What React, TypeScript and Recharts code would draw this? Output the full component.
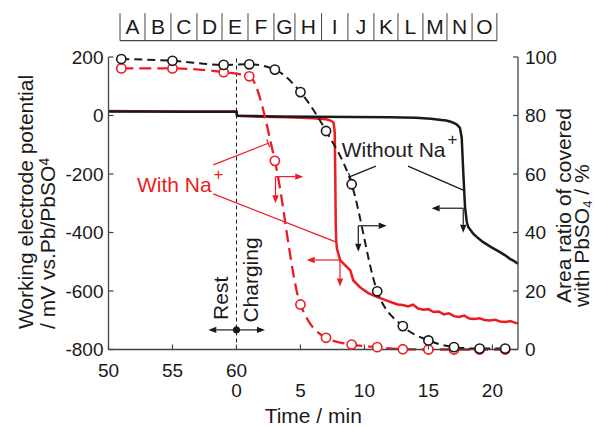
import React from "react";
import {
  ComposedChart,
  Line,
  XAxis,
  YAxis,
  ReferenceLine,
  ReferenceDot,
  Label,
} from "recharts";

const RED = "#ec1c24";
const INK = "#1a1a1a";
const AXIS = "#444";
const FONT = "'Liberation Sans', Arial, Helvetica, sans-serif";

// area ratio covered with PbSO4 (right axis, %)
const restMinutes = [51, 55, 59];
const chargeMinutes = [1, 3, 5, 7, 9, 11, 13, 15, 17, 19, 21];
const coverWithout = [99.3, 98.7, 97.3, 97.5, 95.7, 88.0, 74.7, 56.5, 19.9, 8.0, 3.1, 0.8, 0.3, 0.3];
const coverWith = [96.1, 96.1, 94.8, 93.4, 64.5, 15.4, 4.0, 1.7, 0.8, 0.1, 0, 0, 0, 0];

// working electrode potential (left axis, mV); time on the charging clock, rest is negative
const potTimeWithout = [
  -10, -7, -4, -1, 0, 0.05, 3, 6, 9, 12, 14, 15.2, 16, 16.4, 16.8, 17.2, 17.46, 17.6,
  17.72, 17.86, 18.0, 18.11, 18.5, 18.9, 19.28, 19.9, 20.59, 21.0, 21.37, 21.7, 22,
];
const potWithout = [
  14, 14, 13, 13, 13, -1, -3, -4, -5, -6, -8, -11, -15, -17, -22, -30, -42, -75,
  -190, -313, -365, -381, -404, -420, -433, -450, -467, -478, -490, -498, -507,
];
const potTimeWith = [
  -10, -6, -2, 0, 0.05, 2, 4, 6, 7, 7.4, 7.6, 7.68, 7.72, 7.76, 7.8, 7.85, 8.1, 8.6, 8.9,
  9.13, 9.65, 10.3, 11.0, 11.4, 11.8, 12.2, 12.6, 13.0, 13.4, 13.8, 14.2, 14.6, 15.0,
  15.4, 15.8, 16.2, 16.6, 17.0, 17.4, 17.8, 18.2, 18.6, 19.0, 19.4, 19.8, 20.2, 20.6,
  21.0, 21.4, 21.8, 22,
];
const potWith = [
  15, 14, 14, 14, -1, -4, -6, -9, -13, -18, -25, -60, -200, -380, -430, -455, -494, -517,
  -530, -564, -587, -607, -621, -627, -634, -640, -646, -648, -653, -647, -660, -664,
  -662, -672, -670, -680, -676, -686, -689, -684, -694, -696, -693, -699, -701, -698,
  -704, -706, -703, -709, -710,
];

// axes
const restTickLabels = [50, 55, 60];
const chargeTickLabels = [0, 5, 10, 15, 20];
const leftTicks = [-800, -600, -400, -200, 0, 200];
const rightTicks = [0, 20, 40, 60, 80, 100];

// letter strip above the plot: box edges on the time axis
const stripLetters = ["A", "B", "C", "D", "E", "F", "G", "H", "I", "J", "K", "L", "M", "N", "O"];
const stripEdges = [-9.1, -7.15, -5.12, -3.09, -1.13, 0.9, 2.93, 4.57, 6.65, 8.71, 10.74, 12.62, 14.57, 16.45, 18.41, 20.35];

const toT = (m: number) => m - 60;
const coverTimes = [...restMinutes.map(toT), ...chargeMinutes];
const coverWithoutData = coverTimes.map((t, i) => ({ t, v: coverWithout[i] }));
const coverWithData = coverTimes.map((t, i) => ({ t, v: coverWith[i] }));
const potWithoutData = potTimeWithout.map((t, i) => ({ t, v: potWithout[i] }));
const potWithData = potTimeWith.map((t, i) => ({ t, v: potWith[i] }));
const timeTicks = Array.from(new Set([...restTickLabels.map(toT), ...chargeTickLabels]));

// strip placement, in left-axis units above the 200 mV top
const STRIP_BASE = 256;
const STRIP_TOP = 350;
const STRIP_TEXT = 279;

// annotation pointers (time, mV)
type Seg = { a: [number, number]; b: [number, number]; color: string; head?: boolean; bar?: boolean; w?: number };
const segments: Seg[] = [
  { a: [-1.81, -169], b: [2.48, -95], color: RED, bar: true },
  { a: [-1.81, -268], b: [7.7, -431], color: RED },
  { a: [3.05, -209], b: [5.22, -209], color: RED, head: true },
  { a: [3.05, -209], b: [3.05, -300], color: RED, head: true },
  { a: [8.09, -494], b: [5.49, -494], color: RED, head: true },
  { a: [8.09, -494], b: [8.09, -585], color: RED, head: true },
  { a: [10.9, -173], b: [8.87, -209], color: INK, bar: true },
  { a: [13.4, -173], b: [17.72, -255], color: INK },
  { a: [9.52, -377], b: [11.74, -377], color: INK, head: true },
  { a: [9.52, -377], b: [9.52, -466], color: INK, head: true },
  { a: [17.72, -317], b: [15.25, -317], color: INK, head: true },
  { a: [17.72, -317], b: [17.72, -401], color: INK, head: true },
  { a: [0, -733], b: [-2.2, -733], color: INK, head: true },
  { a: [0, -733], b: [2.23, -733], color: INK, head: true },
];

const segShape = (s: Seg) => (p: any) => {
  const { x1, y1, x2, y2 } = p;
  const dx = x2 - x1;
  const dy = y2 - y1;
  const len = Math.hypot(dx, dy) || 1;
  const ux = dx / len;
  const uy = dy / len;
  const hl = 8;
  const hw = 3.2;
  const ex = s.head ? x2 - ux * hl : x2;
  const ey = s.head ? y2 - uy * hl : y2;
  return (
    <g>
      <line x1={x1} y1={y1} x2={ex} y2={ey} stroke={s.color} strokeWidth={s.w ?? 1.2} />
      {s.head && (
        <polygon
          points={`${x2},${y2} ${ex - uy * hw},${ey + ux * hw} ${ex + uy * hw},${ey - ux * hw}`}
          fill={s.color}
        />
      )}
      {s.bar && (
        <line x1={x2 - uy * 4} y1={y2 + ux * 4} x2={x2 + uy * 4} y2={y2 - ux * 4} stroke={s.color} strokeWidth={1.2} />
      )}
    </g>
  );
};

const textShape = (content: React.ReactNode, color: string, rotate = false, anchor = "start") => (p: any) => (
  <text
    x={p.cx}
    y={p.cy}
    fill={color}
    fontSize={21}
    fontFamily={FONT}
    textAnchor={anchor}
    transform={rotate ? `rotate(-90 ${p.cx} ${p.cy})` : undefined}
  >
    {content}
  </text>
);

const LeftTick = (p: any) => (
  <g>
    <line x1={p.x} x2={p.x + 5} y1={p.y} y2={p.y} stroke={AXIS} strokeWidth={1.2} />
    <text x={p.x - 5} y={p.y} dy="0.36em" textAnchor="end" fontSize={19} fontFamily={FONT} fill={INK}>
      {p.payload.value}
    </text>
  </g>
);

const RightTick = (p: any) => (
  <g>
    <line x1={p.x - 5} x2={p.x} y1={p.y} y2={p.y} stroke={AXIS} strokeWidth={1.2} />
    <text x={p.x + 7} y={p.y} dy="0.36em" textAnchor="start" fontSize={19} fontFamily={FONT} fill={INK}>
      {p.payload.value}
    </text>
  </g>
);

const TimeTick = (p: any) => {
  const v = p.payload.value;
  return (
    <g>
      <line x1={p.x} x2={p.x} y1={p.y} y2={p.y - 5} stroke={AXIS} strokeWidth={1.2} />
      {v <= 0 && (
        <text x={p.x} y={p.y + 27.5} textAnchor="middle" fontSize={19} fontFamily={FONT} fill={INK}>
          {v + 60}
        </text>
      )}
      {v >= 0 && (
        <text x={p.x} y={p.y + 47.5} textAnchor="middle" fontSize={19} fontFamily={FONT} fill={INK}>
          {v}
        </text>
      )}
    </g>
  );
};

const LeftTitle = (p: any) => {
  const vb = p.viewBox;
  const y0 = vb.y + vb.height - 20.5;
  return (
    <g fontSize={21} fontFamily={FONT} fill={INK}>
      <text x={vb.x + 33} y={y0} transform={`rotate(-90 ${vb.x + 33} ${y0})`}>
        Working electrode potential
      </text>
      <text x={vb.x + 55} y={y0} transform={`rotate(-90 ${vb.x + 55} ${y0})`}>
        / mV vs.Pb/PbSO<tspan fontSize={14} dy={-6}>4</tspan>
      </text>
    </g>
  );
};

const RightTitle = (p: any) => {
  const vb = p.viewBox;
  const y1 = vb.y + 246;
  const y2 = vb.y + 250;
  return (
    <g fontSize={21} fontFamily={FONT} fill={INK}>
      <text x={vb.x + 53} y={y1} transform={`rotate(-90 ${vb.x + 53} ${y1})`}>
        Area ratio of covered
      </text>
      <text x={vb.x + 71} y={y2} transform={`rotate(-90 ${vb.x + 71} ${y2})`}>
        with PbSO<tspan fontSize={13} dy={3}>4</tspan>
        <tspan dy={-3}> / %</tspan>
      </text>
    </g>
  );
};

const TimeTitle = (p: any) => {
  const vb = p.viewBox;
  return (
    <text x={vb.x + vb.width / 2} y={vb.y + 73.5} textAnchor="middle" fontSize={21} fontFamily={FONT} fill={INK}>
      Time / min
    </text>
  );
};

const circleDot = (color: string) => (p: any) => (
  <circle key={p.index} cx={p.cx} cy={p.cy} r={4.6} fill="#fff" stroke={color} strokeWidth={1.6} />
);

export default function App() {
  return (
    <div style={{ position: "absolute", left: 0, top: 0, background: "#fff" }}>
      <ComposedChart width={595} height={427} margin={{ top: 57, right: 0, bottom: 0, left: 0 }}>
        <XAxis
          xAxisId="t"
          type="number"
          dataKey="t"
          domain={[-10, 22]}
          ticks={timeTicks}
          interval={0}
          tickSize={0}
          tickMargin={0}
          tickLine={false}
          tick={TimeTick}
          height={77.5}
          axisLine={{ stroke: AXIS, strokeWidth: 1.3 }}
        >
          <Label content={TimeTitle} />
        </XAxis>
        <YAxis
          yAxisId="left"
          orientation="left"
          type="number"
          domain={[-800, 200]}
          ticks={leftTicks}
          interval={0}
          width={108.5}
          tickSize={0}
          tickMargin={0}
          tickLine={false}
          tick={LeftTick}
          axisLine={{ stroke: AXIS, strokeWidth: 1.3 }}
        >
          <Label content={LeftTitle} />
        </YAxis>
        <YAxis
          yAxisId="right"
          orientation="right"
          type="number"
          domain={[0, 100]}
          ticks={rightTicks}
          interval={0}
          width={77}
          tickSize={0}
          tickMargin={0}
          tickLine={false}
          tick={RightTick}
          axisLine={{ stroke: AXIS, strokeWidth: 1.3 }}
        >
          <Label content={RightTitle} />
        </YAxis>

        <ReferenceLine xAxisId="t" yAxisId="left" x={0} stroke={INK} strokeWidth={1} strokeDasharray="4 3" />

        <Line
          xAxisId="t"
          yAxisId="left"
          data={potWithData}
          dataKey="v"
          type="linear"
          stroke={RED}
          strokeWidth={2.5}
          dot={false}
          isAnimationActive={false}
        />
        <Line
          xAxisId="t"
          yAxisId="left"
          data={potWithoutData}
          dataKey="v"
          type="linear"
          stroke={INK}
          strokeWidth={2.5}
          dot={false}
          isAnimationActive={false}
        />
        <Line
          xAxisId="t"
          yAxisId="right"
          data={coverWithData}
          dataKey="v"
          type="monotone"
          stroke={RED}
          strokeWidth={2.3}
          strokeDasharray="12 6"
          dot={circleDot(RED)}
          isAnimationActive={false}
        />
        <Line
          xAxisId="t"
          yAxisId="right"
          data={coverWithoutData}
          dataKey="v"
          type="monotone"
          stroke={INK}
          strokeWidth={2}
          strokeDasharray="8 5"
          dot={circleDot(INK)}
          isAnimationActive={false}
        />

        {segments.map((s, i) => (
          <ReferenceLine
            key={`seg${i}`}
            xAxisId="t"
            yAxisId="left"
            segment={[{ x: s.a[0], y: s.a[1] }, { x: s.b[0], y: s.b[1] }]}
            ifOverflow="visible"
            shape={segShape(s)}
          />
        ))}
        <ReferenceDot xAxisId="t" yAxisId="left" x={0} y={-733} r={3.2} fill={INK} stroke={INK} ifOverflow="visible" />

        <ReferenceDot
          xAxisId="t"
          yAxisId="left"
          x={-7.78}
          y={-260}
          r={0}
          ifOverflow="visible"
          shape={textShape(
            <>
              With Na<tspan fontSize={17} dx={2} dy={-12}>+</tspan>
            </>,
            RED
          )}
        />
        <ReferenceDot
          xAxisId="t"
          yAxisId="left"
          x={8.22}
          y={-141}
          r={0}
          ifOverflow="visible"
          shape={textShape(
            <>
              Without Na<tspan fontSize={17} dx={2} dy={-12}>+</tspan>
            </>,
            "#222"
          )}
        />
        <ReferenceDot xAxisId="t" yAxisId="left" x={-0.66} y={-699} r={0} ifOverflow="visible" shape={textShape("Rest", INK, true)} />
        <ReferenceDot xAxisId="t" yAxisId="left" x={1.68} y={-708} r={0} ifOverflow="visible" shape={textShape("Charging", INK, true)} />

        {/* letter strip */}
        <ReferenceLine
          xAxisId="t"
          yAxisId="left"
          segment={[{ x: stripEdges[0], y: STRIP_BASE }, { x: stripEdges[stripEdges.length - 1], y: STRIP_BASE }]}
          ifOverflow="visible"
          stroke={AXIS}
          strokeWidth={1.2}
        />
        {stripEdges.map((e, i) => (
          <ReferenceLine
            key={`edge${i}`}
            xAxisId="t"
            yAxisId="left"
            segment={[{ x: e, y: STRIP_BASE }, { x: e, y: STRIP_TOP }]}
            ifOverflow="visible"
            stroke={AXIS}
            strokeWidth={1}
          />
        ))}
        {stripLetters.map((l, i) => (
          <ReferenceDot
            key={`let${l}`}
            xAxisId="t"
            yAxisId="left"
            x={(stripEdges[i] + stripEdges[i + 1]) / 2}
            y={STRIP_TEXT}
            r={0}
            ifOverflow="visible"
            shape={textShape(l, INK, false, "middle")}
          />
        ))}
      </ComposedChart>
    </div>
  );
}
